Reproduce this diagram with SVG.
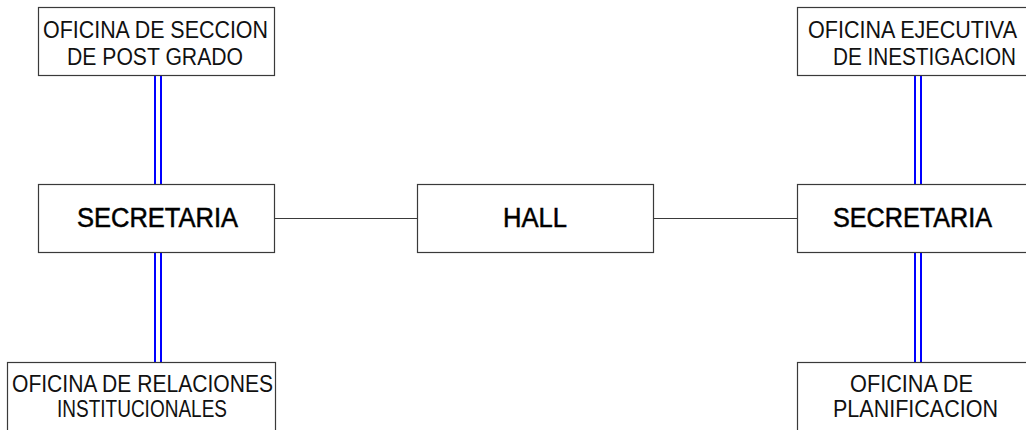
<svg xmlns="http://www.w3.org/2000/svg" width="1026" height="430" viewBox="0 0 1026 430">
  <style>
    .box { fill: #ffffff; stroke: #3a3a3a; stroke-width: 1.2; }
    .lbl { font-family: "Liberation Sans", Arial, sans-serif; font-size: 23px; fill: #111111; text-anchor: start; }
    .big { font-family: "Liberation Sans", Arial, sans-serif; font-size: 27px; fill: #000000; stroke: #000000; stroke-width: 0.5; text-anchor: start; }
    .link { stroke: #3a3a3a; stroke-width: 1.2; fill: none; }
    .duct { stroke: #0000ff; stroke-width: 2; fill: none; }
  </style>
  <rect width="1026" height="430" fill="#ffffff"/>

  <!-- connectors -->
  <g id="connectors">
    <line class="link" x1="274" y1="218.5" x2="417" y2="218.5"/>
    <line class="link" x1="654" y1="218.5" x2="797" y2="218.5"/>
    <line class="duct" x1="155" y1="75" x2="155" y2="184"/>
    <line class="duct" x1="161" y1="75" x2="161" y2="184"/>
    <line class="duct" x1="155" y1="252" x2="155" y2="362"/>
    <line class="duct" x1="161" y1="252" x2="161" y2="362"/>
    <line class="duct" x1="915" y1="75" x2="915" y2="184"/>
    <line class="duct" x1="921" y1="75" x2="921" y2="184"/>
    <line class="duct" x1="915" y1="252" x2="915" y2="362"/>
    <line class="duct" x1="921" y1="252" x2="921" y2="362"/>
  </g>

  <g id="oficina-post-grado">
    <rect class="box" x="38.5" y="7.5" width="236" height="68"/>
    <text class="lbl" x="43" y="38" textLength="225" lengthAdjust="spacingAndGlyphs">OFICINA DE SECCION</text>
    <text class="lbl" x="67" y="65" textLength="176" lengthAdjust="spacingAndGlyphs">DE POST GRADO</text>
  </g>

  <g id="secretaria-izq">
    <rect class="box" x="38.5" y="184.5" width="236" height="68"/>
    <text class="big" x="77" y="227" textLength="161" lengthAdjust="spacingAndGlyphs">SECRETARIA</text>
  </g>

  <g id="hall">
    <rect class="box" x="417.5" y="184.5" width="236" height="68"/>
    <text class="big" x="503" y="227" textLength="64" lengthAdjust="spacingAndGlyphs">HALL</text>
  </g>

  <g id="secretaria-der">
    <rect class="box" x="797.5" y="184.5" width="240" height="68"/>
    <text class="big" x="833" y="227" textLength="159" lengthAdjust="spacingAndGlyphs">SECRETARIA</text>
  </g>

  <g id="oficina-relaciones">
    <rect class="box" x="7.5" y="362.5" width="268" height="80"/>
    <text class="lbl" x="12" y="392" textLength="261" lengthAdjust="spacingAndGlyphs">OFICINA DE RELACIONES</text>
    <text class="lbl" x="57" y="417" textLength="170" lengthAdjust="spacingAndGlyphs">INSTITUCIONALES</text>
  </g>

  <g id="oficina-investigacion">
    <rect class="box" x="797.5" y="7.5" width="240" height="68"/>
    <text class="lbl" x="808" y="38" textLength="209" lengthAdjust="spacingAndGlyphs">OFICINA EJECUTIVA</text>
    <text class="lbl" x="833" y="65" textLength="183" lengthAdjust="spacingAndGlyphs">DE INESTIGACION</text>
  </g>

  <g id="oficina-planificacion">
    <rect class="box" x="797.5" y="362.5" width="240" height="80"/>
    <text class="lbl" x="850" y="392" textLength="123" lengthAdjust="spacingAndGlyphs">OFICINA DE</text>
    <text class="lbl" x="833" y="417" textLength="165" lengthAdjust="spacingAndGlyphs">PLANIFICACION</text>
  </g>
</svg>
